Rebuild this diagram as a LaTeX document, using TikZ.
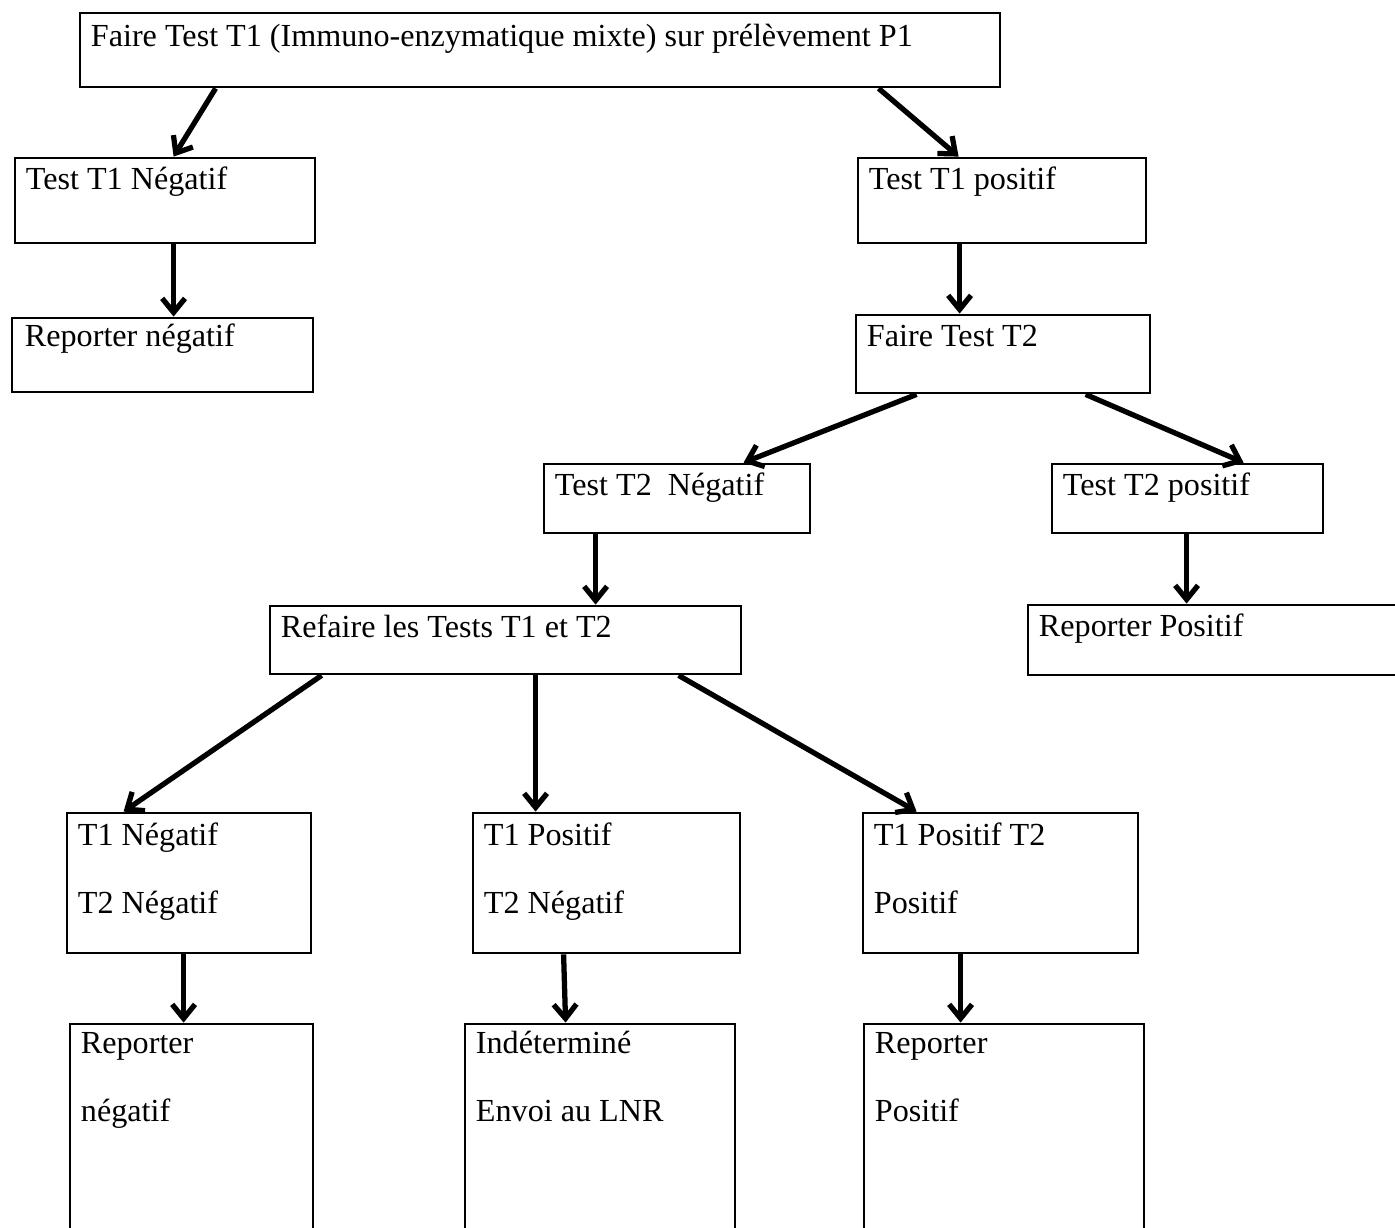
\documentclass[tikz,border=0pt]{standalone}
\usepackage{fontspec}
\setmainfont{Liberation Serif}
\usepackage{tikz}
\usetikzlibrary{arrows.meta, calc}
\tikzset{
  block/.style 2 args = {rectangle, draw, line width=1.6pt,
                   minimum width=#1*0.02cm, minimum height=#2*0.02cm, inner sep=0pt},
  txt/.style    = {anchor=base west, shift={(12,33)}, inner sep=0pt, align=left,
                   font=\fontsize{18.3}{38.5}\selectfont},
  txttwo/.style = {txt, shift={(0,68)}},
  arrow/.style  = {line width=3pt, -{Straight Barb[length=8pt, width=13pt]}},
}
\begin{document}
\begin{tikzpicture}[x=0.02cm, y=-0.02cm]

    \useasboundingbox (0,0) rectangle (1395,1227);

    %% First test
    \node[block={920}{74}, label={[txt, shift={(0,2)}]north west:Faire Test T1 (Immuno-enzymatique mixte) sur prélèvement P1}]
          (faireA) at (540,50) {};
    \node[block={300}{85}, label={[txt]north west:Test T1 Négatif}]  (negA)  at (165,200.5)  {};
    \node[block={288}{85}, label={[txt]north west:Test T1 positif}]  (posA)  at (1002,200.5) {};
    \node[block={301}{74}, label={[txt, shift={(2,-3)}]north west:Reporter négatif}] (repnegA) at (162.5,355) {};

    %% Second test
    \node[block={294}{78}, label={[txt]north west:Faire Test T2}]    (faireB) at (1003,354)   {};
    \node[block={266}{69}, label={[txt]north west:Test T2~ Négatif}] (negB)   at (677,498.5)  {};
    \node[block={271}{69}, label={[txt]north west:Test T2 positif}]  (posB)   at (1187.5,498.5) {};
    \node[block={374}{70}, label={[txt]north west:Reporter Positif}] (repposB) at (1215,640)  {};
    \node[block={471}{68}, label={[txt]north west:Refaire les Tests T1 et T2}] (refaire) at (505.5,640) {};

    %% Retest results
    \node[block={244}{140}, label={[txttwo, shift={(0,1)}]north west:{T1 Négatif\\T2 Négatif}}] (resA) at (189,883)    {};
    \node[block={267}{140}, label={[txttwo, shift={(0,1)}]north west:{T1 Positif\\T2 Négatif}}] (resB) at (606.5,883)  {};
    \node[block={275}{140}, label={[txttwo, shift={(0,1)}]north west:{T1 Positif T2\\Positif}}] (resC) at (1000.5,883) {};

    %% Conclusions
    \node[block={243}{216}, label={[txttwo, shift={(0,-2)}]north west:{Reporter\\négatif}}]          (concA) at (191.5,1132) {};
    \node[block={270}{216}, label={[txttwo, shift={(0,-2)}]north west:{Indéterminé\\Envoi au LNR}}]  (concB) at (600,1132)   {};
    \node[block={280}{216}, label={[txttwo, shift={(0,-2)}]north west:{Reporter\\Positif}}]          (concC) at (1004,1132)  {};

    %% Arrows
    \draw[arrow] ($(faireA.south west)+(137,0)$) -- ($(negA.north west)+(160,0)$);
    \draw[arrow] ($(faireA.south west)+(800,0)$) -- ($(posA.north west)+(102,0)$);
    \draw[arrow] ($(negA.south west)+(160,0)$)   -- ($(repnegA.north west)+(163,0)$);
    \draw[arrow] ($(posA.south west)+(103,0)$)   -- ($(faireB.north west)+(105,0)$);
    \draw[arrow] ($(faireB.south west)+(62,0)$)  -- ($(negB.north west)+(201,0)$);
    \draw[arrow] ($(faireB.south west)+(231,0)$) -- ($(posB.north west)+(193,0)$);
    \draw[arrow] ($(negB.south west)+(53,0)$)    -- ($(refaire.north west)+(327,0)$);
    \draw[arrow] ($(posB.south west)+(136,0)$)   -- ($(repposB.north west)+(160,0)$);
    \draw[arrow] ($(refaire.south west)+(53,0)$)  -- ($(resA.north west)+(58,0)$);
    \draw[arrow] ($(refaire.south west)+(267,0)$) -- ($(resB.north west)+(64,0)$);
    \draw[arrow] ($(refaire.south west)+(410,0)$) -- ($(resC.north west)+(55,0)$);
    \draw[arrow] ($(resA.south west)+(118,0)$) -- ($(concA.north west)+(115,0)$);
    \draw[arrow] ($(resB.south west)+(92,0)$)  -- ($(concB.north west)+(102,0)$);
    \draw[arrow] ($(resC.south west)+(99,0)$)  -- ($(concC.north west)+(98,0)$);

\end{tikzpicture}
\end{document}
